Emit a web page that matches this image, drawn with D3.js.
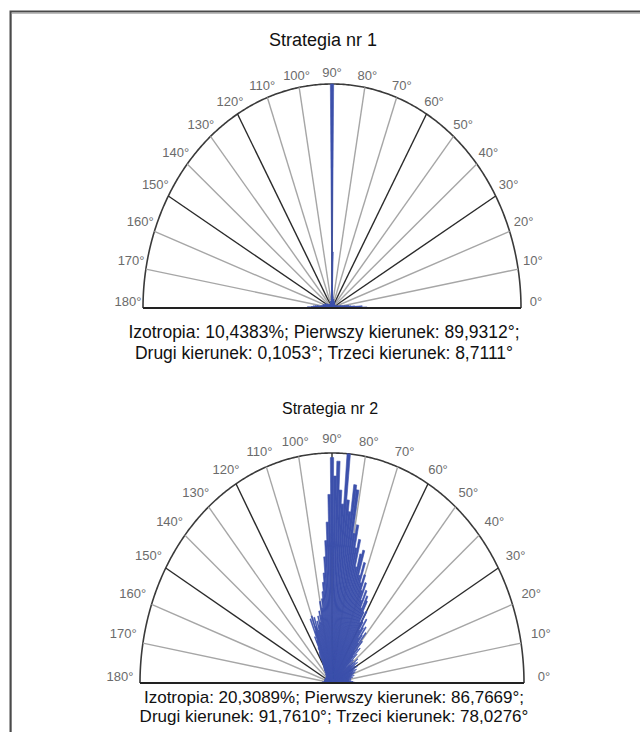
<!DOCTYPE html>
<html>
<head>
<meta charset="utf-8">
<script src="https://cdn.jsdelivr.net/npm/d3@7"></script>
<style>
  body { margin: 0; background: #fff; }
  svg { display: block; font-family: "Liberation Sans", Arial, sans-serif; }
</style>
</head>
<body>
<svg id="chart" width="640" height="732"></svg>
<script>
// spokes every 10 degrees, the dark ones every 30
const spokeAngles = [0, 10, 20, 30, 40, 50, 60, 70, 80, 90, 100, 110, 120, 130, 140, 150, 160, 170, 180];
const tickLabels = ["0°", "10°", "20°", "30°", "40°", "50°", "60°", "70°", "80°", "90°",
  "100°", "110°", "120°", "130°", "140°", "150°", "160°", "170°", "180°"];

// rose values, one per degree 0..180 (fraction of the outer radius)
const roseStrategy1 = [
  0.17, 0.185, 0.15, 0.16, 0.12, 0.10, 0.08, 0.09, 0.07, 0.06,
  0.05, 0.04, 0.05, 0.03, 0.04, 0.03, 0.03, 0.02, 0.03, 0.02,
  0.02, 0.03, 0.02, 0.02, 0.02, 0.02, 0.02, 0.01, 0.02, 0.02,
  0.02, 0.01, 0.02, 0.01, 0.02, 0.01, 0.01, 0.02, 0.01, 0.01,
  0.01, 0.02, 0.01, 0.01, 0.01, 0.02, 0.01, 0.01, 0.02, 0.01,
  0.02, 0.01, 0.02, 0.02, 0.01, 0.02, 0.02, 0.01, 0.02, 0.02,
  0.02, 0.02, 0.03, 0.02, 0.02, 0.03, 0.02, 0.03, 0.03, 0.02,
  0.03, 0.03, 0.03, 0.02, 0.03, 0.03, 0.04, 0.03, 0.03, 0.04,
  0.03, 0.03, 0.03, 0.04, 0.04, 0.05, 0.05, 0.06, 0.08, 0.25,
  1.00, 0.10, 0.06, 0.05, 0.04, 0.04, 0.03, 0.03, 0.03, 0.03,
  0.03, 0.02, 0.03, 0.02, 0.02, 0.03, 0.02, 0.02, 0.02, 0.02,
  0.02, 0.01, 0.02, 0.02, 0.01, 0.02, 0.01, 0.02, 0.01, 0.01,
  0.02, 0.01, 0.01, 0.02, 0.01, 0.01, 0.01, 0.02, 0.01, 0.01,
  0.01, 0.02, 0.01, 0.01, 0.02, 0.01, 0.02, 0.01, 0.02, 0.02,
  0.02, 0.02, 0.02, 0.03, 0.02, 0.02, 0.03, 0.02, 0.03, 0.03,
  0.03, 0.03, 0.04, 0.03, 0.04, 0.04, 0.03, 0.04, 0.04, 0.04,
  0.04, 0.04, 0.05, 0.04, 0.05, 0.04, 0.05, 0.05, 0.04, 0.05,
  0.05, 0.06, 0.06, 0.08, 0.09, 0.10, 0.09, 0.11, 0.13, 0.12,
  0.10
];

const roseStrategy2 = [
  0.13, 0.12, 0.10, 0.11, 0.09, 0.10, 0.08, 0.09, 0.10, 0.08,
  0.09, 0.10, 0.08, 0.11, 0.09, 0.10, 0.12, 0.10, 0.11, 0.09,
  0.12, 0.10, 0.13, 0.11, 0.12, 0.14, 0.10, 0.13, 0.12, 0.15,
  0.13, 0.11, 0.14, 0.12, 0.16, 0.13, 0.15, 0.12, 0.17, 0.14,
  0.12, 0.08, 0.15, 0.10, 0.18, 0.14, 0.21, 0.16, 0.20, 0.24,
  0.18, 0.28, 0.22, 0.26, 0.30, 0.24, 0.29, 0.33, 0.27, 0.31,
  0.36, 0.30, 0.35, 0.40, 0.42, 0.36, 0.44, 0.39, 0.47, 0.43,
  0.50, 0.46, 0.55, 0.49, 0.60, 0.58, 0.52, 0.64, 0.60, 0.70,
  0.66, 0.85, 0.87, 0.75, 0.80, 1.00, 0.78, 0.84, 0.965, 0.90,
  0.98, 0.82, 0.70, 0.62, 0.55, 0.48, 0.44, 0.40, 0.37, 0.33,
  0.36, 0.30, 0.32, 0.27, 0.30, 0.26, 0.28, 0.24, 0.30, 0.26,
  0.31, 0.24, 0.30, 0.20, 0.22, 0.17, 0.15, 0.12, 0.14, 0.10,
  0.09, 0.08, 0.07, 0.08, 0.06, 0.07, 0.05, 0.06, 0.05, 0.04,
  0.05, 0.04, 0.04, 0.05, 0.04, 0.03, 0.04, 0.03, 0.04, 0.03,
  0.03, 0.04, 0.03, 0.03, 0.04, 0.03, 0.03, 0.04, 0.03, 0.03,
  0.04, 0.03, 0.04, 0.03, 0.03, 0.04, 0.03, 0.04, 0.04, 0.03,
  0.04, 0.03, 0.04, 0.04, 0.03, 0.04, 0.04, 0.03, 0.04, 0.04,
  0.04, 0.03, 0.04, 0.04, 0.05, 0.04, 0.04, 0.05, 0.04, 0.04,
  0.04
];

const titles = ["Strategia nr 1", "Strategia nr 2"];
const captions = [
  ["Izotropia: 10,4383%; Pierwszy kierunek: 89,9312°;", "Drugi kierunek: 0,1053°; Trzeci kierunek: 8,7111°"],
  ["Izotropia: 20,3089%; Pierwszy kierunek: 86,7669°;", "Drugi kierunek: 91,7610°; Trzeci kierunek: 78,0276°"]
];

const svg = d3.select("#chart");

// frame (only top and left edges are visible)
svg.append("path").attr("d", "M640,13.5H11.5V732").attr("fill", "none")
  .attr("stroke", "#bdbdbd").attr("stroke-width", 1);
svg.append("path").attr("d", "M640,11.5H10.5V732").attr("fill", "none")
  .attr("stroke", "#4a4a4a").attr("stroke-width", 2);

function drawRose(values, opt) {
  var g = svg.append("g");

  var angle = d3.scaleLinear().domain([0, 180]).range([0, Math.PI]);
  var rx = d3.scaleLinear().domain([0, 1]).range([0, opt.rx]);
  var ry = d3.scaleLinear().domain([0, 1]).range([0, opt.ry]);

  function px(deg, r) { return opt.cx + rx(r) * Math.cos(angle(deg)); }
  function py(deg, r) { return opt.cy - ry(r) * Math.sin(angle(deg)); }

  // title
  g.append("text")
    .attr("x", opt.titleX).attr("y", opt.titleY)
    .attr("text-anchor", "middle")
    .style("font-size", opt.titleSize + "px")
    .attr("fill", "#111")
    .text(opt.title);

  // outer arc
  var arcLine = d3.line().x(d => px(d, 1)).y(d => py(d, 1));
  g.append("path")
    .attr("d", arcLine(d3.range(0, 180.5, 0.5)))
    .attr("fill", "none").attr("stroke", "#3a3a3a").attr("stroke-width", 1.6);

  // spokes
  g.selectAll(".spoke")
    .data(spokeAngles.filter(a => a > 0 && a < 180))
    .enter().append("line")
    .attr("x1", opt.cx).attr("y1", opt.cy)
    .attr("x2", d => px(d, 1)).attr("y2", d => py(d, 1))
    .attr("stroke", d => d % 30 === 0 ? "#2a2a2a" : "#a6a6a6")
    .attr("stroke-width", 1.4);

  // rose wedges, 1 degree wide
  var wedge = d3.line().x(d => px(d[0], d[1])).y(d => py(d[0], d[1]));
  g.selectAll(".wedge")
    .data(values.map((v, i) => ({ a: i, v: v })).filter(d => d.v > 0))
    .enter().append("path")
    .attr("d", d => {
      var a0 = Math.max(0, d.a - 0.5), a1 = Math.min(180, d.a + 0.5);
      return wedge([[0, 0], [a0, d.v], [a1, d.v]]) + "Z";
    })
    .attr("fill", "#3c50ab")
    .attr("stroke", "#3c50ab")
    .attr("stroke-width", 0.6);

  // base line
  g.append("line")
    .attr("x1", px(180, 1)).attr("y1", opt.cy)
    .attr("x2", px(0, 1)).attr("y2", opt.cy)
    .attr("stroke", "#222").attr("stroke-width", 2);

  // tick labels
  g.selectAll(".tick")
    .data(spokeAngles)
    .enter().append("text")
    .attr("x", d => opt.cx + opt.lrx * Math.cos(angle(d)))
    .attr("y", d => opt.cy - opt.lry * Math.sin(angle(d)) - 7 * Math.pow(Math.cos(angle(d)), 2))
    .attr("text-anchor", "middle")
    .attr("dominant-baseline", "central")
    .style("font-size", "13px")
    .attr("fill", "#6b6b6b")
    .text((d, i) => tickLabels[i]);

  // caption
  g.selectAll(".caption")
    .data(opt.caption)
    .enter().append("text")
    .attr("x", opt.capX)
    .attr("y", (d, i) => opt.capY + i * opt.capGap)
    .attr("text-anchor", "middle")
    .style("font-size", opt.capSize + "px")
    .attr("fill", "#111")
    .text(d => d);
}

drawRose(roseStrategy1, {
  cx: 332, cy: 308, rx: 189, ry: 224, lrx: 204, lry: 236,
  title: titles[0], titleX: 323, titleY: 46, titleSize: 18,
  caption: captions[0], capX: 324, capY: 338, capGap: 21, capSize: 17.5
});

drawRose(roseStrategy2, {
  cx: 332, cy: 683, rx: 192, ry: 230, lrx: 212, lry: 245,
  title: titles[1], titleX: 330, titleY: 414, titleSize: 16,
  caption: captions[1], capX: 334, capY: 703, capGap: 19, capSize: 17
});
</script>
</body>
</html>
